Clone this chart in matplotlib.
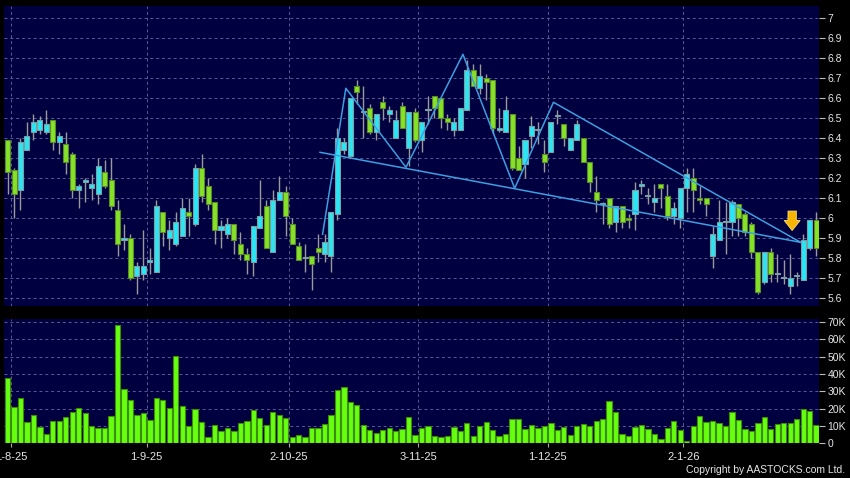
import numpy as np
import matplotlib
matplotlib.use("Agg")
import matplotlib.pyplot as plt

plt.rcParams['font.family'] = ['Liberation Sans', 'DejaVu Sans']

# daily candles, 31-7-25 .. 30-1-26
opens = [6.39, 6.24, 6.14, 6.34, 6.43, 6.44, 6.43, 6.49, 6.38, 6.37,
         6.32, 6.14, 6.18, 6.15, 6.12, 6.23, 6.19, 6.04, 5.89, 5.90,
         5.71, 5.72, 5.78, 5.73, 6.03, 5.90, 5.87, 5.91, 6.03, 5.97,
         6.25, 6.16, 6.08, 5.94, 5.92, 5.97, 5.87, 5.82, 5.78, 5.95,
         6.06, 5.83, 6.09, 6.13, 5.97, 5.86, 5.80, 5.81, 5.85, 5.82,
         5.81, 6.02, 6.34, 6.31, 6.66, 6.53, 6.55, 6.43, 6.58, 6.52,
         6.40, 6.56, 6.35, 6.53, 6.39, 6.54, 6.61, 6.60, 6.50, 6.44,
         6.44, 6.54, 6.74, 6.65, 6.70, 6.69, 6.44, 6.43, 6.52, 6.30,
         6.27, 6.41, 6.44, 6.32, 6.33, 6.51, 6.47, 6.34, 6.39, 6.40,
         6.28, 6.13, 6.07, 6.10, 5.98, 6.06, 6.00, 6.02, 6.16, 6.11,
         6.08, 6.17, 6.11, 6.01, 6.00, 6.15, 6.20, 6.10, 6.10, 5.81,
         5.89, 5.98, 5.98, 6.07, 6.02, 5.97, 5.83, 5.68, 5.83, 5.72,
         5.70, 5.66, 5.71, 5.69, 5.85, 5.99]
highs = [6.39, 6.25, 6.40, 6.48, 6.52, 6.51, 6.54, 6.49, 6.43, 6.43,
         6.33, 6.17, 6.20, 6.22, 6.30, 6.29, 6.30, 6.09, 5.97, 5.92,
         5.78, 5.94, 5.85, 6.09, 6.03, 5.99, 6.03, 6.10, 6.10, 6.27,
         6.32, 6.20, 6.08, 5.99, 6.00, 5.97, 5.93, 5.85, 5.96, 6.19,
         6.09, 6.14, 6.21, 6.16, 6.00, 5.88, 5.87, 5.81, 5.92, 5.92,
         6.03, 6.45, 6.40, 6.60, 6.69, 6.66, 6.57, 6.52, 6.61, 6.56,
         6.54, 6.58, 6.53, 6.55, 6.48, 6.61, 6.61, 6.60, 6.52, 6.50,
         6.55, 6.79, 6.77, 6.77, 6.72, 6.69, 6.55, 6.61, 6.52, 6.36,
         6.39, 6.51, 6.48, 6.39, 6.48, 6.54, 6.47, 6.40, 6.49, 6.40,
         6.28, 6.21, 6.08, 6.10, 6.06, 6.06, 6.02, 6.18, 6.19, 6.15,
         6.17, 6.17, 6.17, 6.08, 6.15, 6.25, 6.25, 6.16, 6.10, 5.96,
         6.09, 6.08, 6.09, 6.07, 6.03, 5.98, 5.83, 5.83, 5.85, 5.82,
         5.79, 5.82, 5.73, 5.92, 5.99, 6.03]
lows = [6.12, 6.00, 6.04, 6.34, 6.39, 6.42, 6.42, 6.34, 6.32, 6.22,
        6.10, 6.05, 6.08, 6.09, 6.07, 6.15, 6.04, 5.81, 5.84, 5.69,
        5.62, 5.69, 5.72, 5.73, 5.86, 5.84, 5.86, 5.91, 5.91, 5.96,
        6.08, 6.04, 5.87, 5.85, 5.90, 5.82, 5.79, 5.72, 5.71, 5.95,
        5.85, 5.83, 6.09, 5.91, 5.87, 5.79, 5.73, 5.64, 5.78, 5.78,
        5.73, 5.99, 6.32, 6.30, 6.57, 6.40, 6.42, 6.39, 6.49, 6.48,
        6.40, 6.45, 6.26, 6.38, 6.33, 6.47, 6.50, 6.45, 6.44, 6.41,
        6.44, 6.54, 6.66, 6.62, 6.59, 6.42, 6.43, 6.43, 6.24, 6.24,
        6.20, 6.35, 6.37, 6.23, 6.33, 6.47, 6.36, 6.34, 6.39, 6.28,
        6.13, 6.03, 5.97, 5.95, 5.93, 5.95, 5.95, 5.94, 6.12, 6.07,
        6.03, 6.05, 5.99, 5.97, 5.95, 6.03, 6.03, 6.07, 6.01, 5.75,
        5.89, 5.82, 5.91, 5.91, 5.91, 5.80, 5.62, 5.67, 5.68, 5.68,
        5.67, 5.62, 5.66, 5.69, 5.84, 5.81]
closes = [6.23, 6.12, 6.38, 6.41, 6.48, 6.49, 6.47, 6.38, 6.41, 6.28,
          6.14, 6.16, 6.19, 6.17, 6.26, 6.16, 6.06, 5.87, 5.90, 5.70,
          5.76, 5.76, 5.79, 6.06, 5.93, 5.94, 5.98, 6.05, 6.01, 6.25,
          6.11, 6.07, 5.94, 5.96, 5.97, 5.89, 5.82, 5.79, 5.96, 6.01,
          5.85, 6.09, 6.13, 6.01, 5.87, 5.79, 5.80, 5.77, 5.83, 5.88,
          6.03, 6.40, 6.38, 6.60, 6.63, 6.53, 6.43, 6.52, 6.55, 6.54,
          6.49, 6.45, 6.53, 6.39, 6.48, 6.54, 6.55, 6.50, 6.48, 6.48,
          6.55, 6.74, 6.66, 6.71, 6.68, 6.45, 6.45, 6.54, 6.25, 6.24,
          6.39, 6.46, 6.44, 6.28, 6.48, 6.51, 6.40, 6.40, 6.47, 6.28,
          6.18, 6.09, 6.07, 5.97, 6.06, 5.98, 5.99, 6.14, 6.17, 6.11,
          6.10, 6.15, 6.01, 6.05, 6.15, 6.22, 6.14, 6.09, 6.07, 5.92,
          5.98, 5.98, 6.08, 6.00, 5.93, 5.83, 5.63, 5.83, 5.72, 5.72,
          5.70, 5.70, 5.71, 5.89, 5.99, 5.85]
# volume in thousands
volumes_k = [37.5, 21.2, 26.2, 12.5, 16.2, 9.2, 5.4, 12.9, 12.7, 15.2,
             18.1, 20.2, 17.7, 10.2, 8.7, 8.7, 15.6, 68.1, 31.3, 25.2,
             16.5, 17.7, 13.5, 26.0, 25.0, 20.2, 50.4, 21.5, 10.2, 20.0,
             12.3, 3.7, 10.6, 6.9, 8.8, 6.9, 11.5, 12.9, 19.0, 14.4,
             10.8, 18.1, 16.3, 14.4, 3.8, 4.8, 3.8, 8.8, 8.8, 11.3,
             16.3, 30.6, 32.5, 23.7, 21.9, 10.8, 7.7, 5.8, 7.5, 8.8,
             6.9, 8.1, 15.4, 4.8, 8.8, 9.8, 4.2, 3.7, 4.4, 9.6,
             7.3, 11.9, 4.4, 10.0, 12.5, 7.9, 4.2, 5.2, 14.2, 13.8,
             8.5, 10.6, 8.8, 10.2, 11.9, 7.7, 9.6, 4.8, 10.0, 11.4,
             9.8, 12.9, 14.1, 24.5, 18.1, 5.4, 4.2, 9.6, 10.4, 8.3,
             5.6, 2.3, 9.1, 12.9, 7.7, 1.3, 10.2, 15.8, 12.1, 12.9,
             11.8, 9.8, 18.1, 13.5, 8.1, 7.3, 11.8, 15.0, 8.3, 11.0,
             11.6, 11.9, 14.3, 19.7, 18.5, 10.8]

# month starts (candle index) and their labels
month_idx = [1, 22, 44, 64, 84, 105]
month_labels = ["1-8-25", "1-9-25", "2-10-25", "3-11-25", "1-12-25", "2-1-26"]

# pattern lines drawn by the site
zig_x = [48.7, 52.3, 61.6, 70.4, 78.4, 84.4, 122.6]
zig_y = [5.92, 6.65, 6.255, 6.82, 6.15, 6.58, 5.88]
neck_x = [48.3, 122.6]
neck_y = [6.33, 5.88]
arrow_x = 121.3
arrow_top, arrow_tip = 6.05, 5.925

o = np.array(opens); h = np.array(highs); l = np.array(lows); c = np.array(closes)
x = np.arange(len(c))
up = c >= o

bg = '#000040'
grid_c = '#5a5a94'
txt_c = '#e6e6e6'
up_fill, up_edge = '#2ae5f4', '#7f9ea3'
dn_fill, dn_edge = '#86e227', '#5b8a2a'

fig = plt.figure(figsize=(8.5, 4.78), dpi=100, facecolor='black')
ax1 = fig.add_axes([4/850, 1-306/478, 815/850, 300/478], facecolor=bg)
ax2 = fig.add_axes([4/850, 1-443.3/478, 815/850, 124.3/478], facecolor=bg)

xlim = (-0.55, 125.45)
grid_x = [m - 0.5 for m in month_idx]

# price panel
ax1.vlines(x, l, h, color='#9a9a9a', lw=1, zorder=2)
body_h = np.maximum(np.abs(c - o), 0.006)
body_b = np.minimum(o, c)
ax1.bar(x[up], body_h[up], bottom=body_b[up], width=0.78,
        color=up_fill, edgecolor=up_edge, lw=0.8, zorder=3)
ax1.bar(x[~up], body_h[~up], bottom=body_b[~up], width=0.78,
        color=dn_fill, edgecolor=dn_edge, lw=0.8, zorder=3)
ax1.plot(zig_x, zig_y, color='#3d9fe0', lw=1.1, zorder=4)
ax1.plot(neck_x, neck_y, color='#3d9fe0', lw=1.1, zorder=4)
ax1.annotate('', xy=(arrow_x, arrow_tip), xytext=(arrow_x, arrow_top),
             arrowprops=dict(arrowstyle='simple,head_length=0.6,head_width=0.95,tail_width=0.5',
                             fc='#f7b400', ec='#ffe27a', lw=0.6, mutation_scale=12),
             zorder=5)

ax1.set_xlim(*xlim)
ax1.set_ylim(5.5615, 7.0615)
yt = np.round(np.arange(5.6, 7.01, 0.1), 1)
ax1.set_yticks(yt)
ax1.set_yticklabels(['%g' % v for v in yt])
ax1.set_xticks(grid_x)
ax1.tick_params(axis='x', length=0, labelbottom=False)

# volume panel
vol = np.array(volumes_k) * 1000
ax2.bar(x, vol, width=0.82, color='#66ff10', edgecolor='#3c8c08', lw=0.8, zorder=3)
ax2.set_xlim(*xlim)
ax2.set_ylim(0, 71800)
vt = np.arange(0, 70001, 10000)
ax2.set_yticks(vt)
ax2.set_yticklabels(['0' if v == 0 else '%dK' % (v // 1000) for v in vt])
ax2.set_xticks(grid_x)
ax2.set_xticklabels(month_labels)
ax2.tick_params(axis='x', direction='out', length=3, color='#aaaaaa',
                labelcolor=txt_c, labelsize=8, pad=3)

for ax in (ax1, ax2):
    ax.yaxis.tick_right()
    ax.tick_params(axis='y', direction='out', length=4, color='#bbbbbb',
                   labelcolor=txt_c, labelsize=7.5, pad=2)
    ax.grid(True, color=grid_c, linestyle=(0, (3, 3)), lw=0.7, zorder=0)
    ax.set_axisbelow(True)
    for s in ax.spines.values():
        s.set_visible(False)

fig.text(845/850, 1-473/478, 'Copyright by AASTOCKS.com Ltd.', color=txt_c,
         fontsize=7.5, ha='right', va='baseline')

fig.savefig('out.png', dpi=100, facecolor='black')
